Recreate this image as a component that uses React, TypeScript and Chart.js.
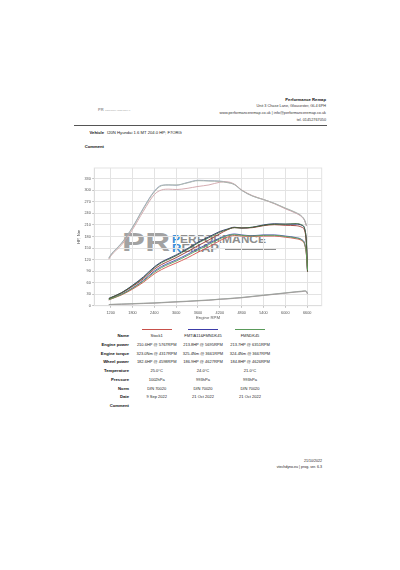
import React, { useEffect, useRef } from "react";
import { Chart, registerables } from "chart.js";

Chart.register(...registerables);

// ---------- data ----------
const rpm = [1150, 1200, 1500, 1800, 2100, 2400, 2600, 2800, 3000, 3300, 3600, 3900, 4200, 4400, 4600, 4800, 5100, 5400, 5700, 6000, 6300, 6450, 6530, 6580, 6610];

const torqueStock1 = [121, 129, 158, 198, 246, 289, 301, 303, 302, 305, 310, 314, 321, 322, 316, 301, 286, 276, 265, 252, 240, 231, 221, 207, null];
const torqueFMTIA = [124, 132, 163, 204, 254, 298, 313, 314, 313, 320, 326, 325, 324, 321, 315, 300, 285, 276, 266, 253, 241, 232, 222, 208, null];
const torqueFMNDK = [123, 131, 162, 203, 252, 296, 312, 314, 314, 319, 325, 324, 323, 320, 315, 300, 285, 276, 266, 254, 242, 233, 223, 209, null];

const powerStock1 = [18, 20, 33, 50, 70, 95, 107, 116, 125, 140, 156, 171, 187, 197, 203, 202, 203, 208, 210.6, 209, 208, 204, 195, 160, 88];
const powerFMTIA = [19, 21, 34, 53, 75, 101, 114, 123, 132, 148, 165, 179, 193, 199, 204, 202, 204, 210, 213, 212, 212, 209, 200, 165, 89];
const powerFMNDK = [18.5, 20.5, 33.5, 52, 73, 99, 112, 121, 130, 146, 163, 177, 191, 198, 203, 202, 204, 209, 212, 212, 213.5, 210, 201, 163, 89];

const wheelStock1 = [15, 17, 28, 43, 61, 83, 94, 103, 111, 124, 139, 153, 169, 178, 182.5, 181, 180, 181, 181, 178, 174, 169, 159, 132, 92];
const wheelFMTIA = [16, 18, 30, 46, 66, 90, 102, 111, 119, 133, 148, 162, 176, 183, 186.5, 184, 182, 184, 184, 181, 177, 172, 162, 135, 93];
const wheelFMNDK = [15.5, 17.5, 29, 45, 64, 87, 99, 108, 116, 130, 145, 159, 174, 182, 184.7, 183, 181, 183, 183, 180, 176, 171, 161, 134, 93];

const lossStock1 = [2.5, 3, 3.5, 4.5, 5.5, 6.5, 7.5, 8.5, 9.5, 11, 12.5, 14, 16.5, 17.5, 19, 20.5, 23.5, 26.5, 29.5, 32.5, 35.5, 36.5, 37.5, 36, 30];
const lossFMTIA = [3, 3, 4, 5, 6, 7, 8, 9, 10, 11, 13, 14.5, 17, 18, 19.5, 21, 24, 27, 30, 33, 36, 37, 38, 37, 31];
const lossFMNDK = [3, 3.5, 4.5, 5.5, 6.5, 7.5, 8.5, 9.5, 10.5, 12, 13.5, 15, 17, 18.5, 20, 21.5, 24.5, 27.5, 30.5, 33.5, 36.5, 38, 39, 38, 32];

const xTickValues = [1200, 1800, 2400, 3000, 3600, 4200, 4800, 5400, 6000, 6600];
const yTickValues = [0, 30, 60, 90, 120, 150, 180, 210, 240, 270, 300, 330];

const runNames = ["Stock1", "FMTIA11&FMNDK45", "FMNDK45"];
const runColors = ["#c8504a", "#3c3ca8", "#5a9a5a"];
const enginePowerText = ["210.6HP @ 5767RPM", "213.8HP @ 5695RPM", "213.7HP @ 6351RPM"];
const engineTorqueText = ["323.0Nm @ 4317RPM", "325.4Nm @ 3661RPM", "324.4Nm @ 3667RPM"];
const wheelPowerText = ["182.6HP @ 4598RPM", "186.9HP @ 4627RPM", "184.8HP @ 4626RPM"];
const temperatureText = ["25.0°C", "24.0°C", "21.0°C"];
const pressureText = ["1002hPa", "993hPa", "993hPa"];
const normText = ["DIN 70020", "DIN 70020", "DIN 70020"];
const dateText = ["9 Sep 2022", "21 Oct 2022", "21 Oct 2022"];

const FONT = '"Liberation Sans", Arial, Helvetica, sans-serif';

// ---------- helpers ----------
type TP = {
  x: number;
  y: number;
  size?: number;
  bold?: boolean;
  align?: "left" | "right" | "center";
  color?: string;
  children?: React.ReactNode;
  style?: React.CSSProperties;
};
function T({ x, y, size = 4, bold, align = "left", color = "#222", children, style }: TP) {
  const tx = align === "left" ? "0" : align === "right" ? "-100%" : "-50%";
  return (
    <div
      style={{
        position: "absolute",
        left: x,
        top: y,
        transform: `translate(${tx}, -50%)`,
        fontSize: size,
        fontWeight: bold ? 700 : 400,
        color,
        whiteSpace: "nowrap",
        lineHeight: 1,
        fontFamily: FONT,
        ...style,
      }}
    >
      {children}
    </div>
  );
}

const frame = {
  id: "frame",
  beforeDatasetsDraw(chart: any) {
    const { ctx, chartArea } = chart;
    ctx.save();
    ctx.strokeStyle = "#e3e3e3";
    ctx.lineWidth = 1;
    ctx.strokeRect(chartArea.left, chartArea.top, chartArea.right - chartArea.left, chartArea.bottom - chartArea.top);
    ctx.restore();
  },
};

function DynoChart() {
  const ref = useRef<HTMLCanvasElement>(null);
  useEffect(() => {
    if (!ref.current) return;
    const mk = (vals: (number | null)[], color: string, width = 0.9) => ({
      data: rpm
        .map((x, i) => ({ x, y: vals[i] }))
        .filter((p) => p.y !== null && p.y !== undefined),
      borderColor: color,
      borderWidth: width,
      pointRadius: 0,
      fill: false,
      cubicInterpolationMode: "monotone",
    });
    const datasets: any[] = [
      mk(lossFMNDK, "#9aa39a", 0.7),
      mk(lossStock1, "#a39595", 0.7),
      mk(lossFMTIA, "#858595", 0.7),
      mk(torqueFMNDK, "#a9b5a9"),
      mk(torqueStock1, "#cfa3a8"),
      mk(torqueFMTIA, "#95a0bf"),
      mk(wheelFMNDK, "#5aa35a"),
      mk(powerFMNDK, "#3b6b3b"),
      mk(wheelStock1, "#d4554d"),
      mk(powerStock1, "#9a3530"),
      mk(wheelFMTIA, "#4646bb"),
      mk(powerFMTIA, "#2e2e78"),
    ];
    const tickFont = { family: FONT, size: 3.8 };
    const chart = new Chart(ref.current, {
      type: "line",
      data: { datasets },
      options: {
        animation: false,
        responsive: false,
        devicePixelRatio: 1,
        plugins: { legend: { display: false }, tooltip: { enabled: false } },
        layout: { padding: { top: 8, right: 8.3, left: 0, bottom: 0 } },
        scales: {
          x: {
            type: "linear",
            min: 750,
            max: 7000,
            afterBuildTicks: (s: any) => {
              s.ticks = xTickValues.map((v) => ({ value: v }));
            },
            afterFit: (s: any) => {
              s.height = 19.3;
            },
            ticks: { font: tickFont, color: "#555", padding: 2.5, maxRotation: 0, autoSkip: false, callback: (v: any) => String(v) },
            grid: { color: "#e3e3e3", lineWidth: 1, drawTicks: true, tickLength: 2, tickColor: "#bbb" },
            border: { color: "#c8c8c8" },
            title: { display: true, text: "Engine RPM", color: "#555", font: { family: FONT, size: 4.3 }, padding: { top: 0, bottom: 4.6 } },
          },
          y: {
            type: "linear",
            min: 0,
            max: 358,
            afterBuildTicks: (s: any) => {
              s.ticks = yTickValues.map((v) => ({ value: v }));
            },
            afterFit: (s: any) => {
              s.width = 34.3;
            },
            ticks: { font: tickFont, color: "#555", padding: 1.5, autoSkip: false, callback: (v: any) => String(v) },
            grid: { color: "#e3e3e3", lineWidth: 1, drawTicks: true, tickLength: 2, tickColor: "#bbb" },
            border: { color: "#c8c8c8" },
            title: { display: true, text: "HP, Nm", color: "#555", font: { family: FONT, size: 4.3 }, padding: { top: 16.6, bottom: 0 } },
          },
        },
      } as any,
      plugins: [frame],
    });
    return () => chart.destroy();
  }, []);
  return (
    <canvas
      ref={ref}
      width={270}
      height={165}
      style={{ position: "absolute", left: 60, top: 160, width: 270, height: 165 }}
    />
  );
}

export default function App() {
  const colX = [156.7, 203, 250];
  const rows: [string, string[], number][] = [
    ["Name", runNames, 336],
    ["Engine power", enginePowerText, 344.8],
    ["Engine torque", engineTorqueText, 353.5],
    ["Wheel power", wheelPowerText, 362.2],
    ["Temperature", temperatureText, 371],
    ["Pressure", pressureText, 379.8],
    ["Norm", normText, 388.5],
    ["Date", dateText, 397.2],
  ];
  return (
    <div style={{ position: "absolute", left: 0, top: 0, width: 400, height: 570, background: "#fff", overflow: "hidden", fontFamily: FONT }}>
      {/* header */}
      <T x={326} y={100} size={4.2} bold align="right" color="#111">Performance Remap</T>
      <T x={326} y={106.7} size={3.8} align="right" color="#333">Unit 3 Chase Lane, Gloucester, GL4 6PH</T>
      <T x={326} y={113.5} size={3.8} align="right" color="#333">www.performanceremap.co.uk | info@performanceremap.co.uk</T>
      <T x={326} y={120.5} size={3.8} align="right" color="#333">tel. 01452767050</T>
      <T x={98} y={109.5} size={4} bold color="#9a9a9a">PR</T>
      <T x={105} y={109.5} size={2.2} color="#a8a8a8">PERFORMANCE REMAP</T>
      <div style={{ position: "absolute", left: 74, top: 125, width: 253, height: 1, background: "#555" }} />

      <T x={104} y={133} size={4.2} bold align="right" color="#111">Vehicle</T>
      <T x={107} y={133} size={4.2} color="#222">I20N Hyundai 1.6 MT 204.0 HP; F7ORG</T>
      <T x={104} y={147} size={4.2} bold align="right" color="#111">Comment</T>

      {/* watermark (behind chart lines) */}
      <div style={{ position: "absolute", left: 122, top: 228.5, fontSize: 26.5, fontWeight: 700, lineHeight: 1, color: "#a2a2a2", transform: "scaleX(1.3)", transformOrigin: "left top", fontFamily: FONT, letterSpacing: 0.3 }}>PR</div>
      <div style={{ position: "absolute", left: 171.7, top: 234.6, fontSize: 10, fontWeight: 700, lineHeight: 1, color: "#8e8e8e", transform: "scaleX(1.2)", transformOrigin: "left top", fontFamily: FONT }}>
        <span style={{ color: "#3d8fd8" }}>P</span>ERFORMANCE
      </div>
      <div style={{ position: "absolute", left: 171.7, top: 244.4, fontSize: 10, fontWeight: 700, lineHeight: 1, color: "#8e8e8e", transform: "scaleX(1.3)", transformOrigin: "left top", fontFamily: FONT }}>
        <span style={{ color: "#3d8fd8" }}>R</span>EMAP
      </div>
      <div style={{ position: "absolute", left: 225, top: 248.7, width: 50.7, height: 1.3, background: "#8c8c8c" }} />

      <DynoChart />

      {/* legend lines */}
      {runColors.map((c, i) => (
        <div key={c} style={{ position: "absolute", left: colX[i] - 15, top: 329, width: 30, height: 1, background: c }} />
      ))}

      {/* table */}
      {rows.map(([label, vals, y]) => (
        <React.Fragment key={label}>
          <T x={129} y={y} size={4.2} bold align="right" color="#111">{label}</T>
          {vals.map((v, i) => (
            <T key={i} x={colX[i]} y={y} size={4} align="center" color="#222">{v}</T>
          ))}
        </React.Fragment>
      ))}
      <T x={129} y={406} size={4.2} bold align="right" color="#111">Comment</T>

      {/* footer */}
      <T x={322} y={462} size={3.6} align="right" color="#222">21/10/2022</T>
      <T x={322} y={468} size={3.6} align="right" color="#222">vtechdyno.eu | prog. ver. 6.3</T>
    </div>
  );
}
